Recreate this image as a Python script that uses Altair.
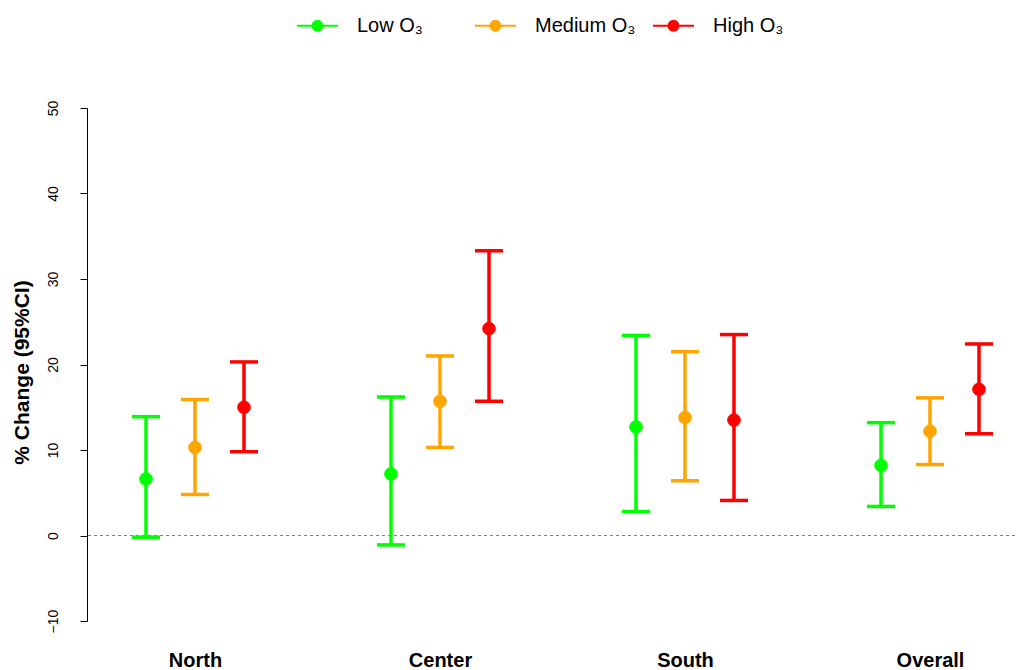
import json
import altair as alt
import pandas as pd

# ---- data ----
regions = ["North", "Center", "South", "Overall"]
levels = ["Low O₃", "Medium O₃", "High O₃"]
colors = ["#00FF00", "#FFA500", "#FF0000"]

low_est = [6.6, 7.2, 12.7, 8.2]
low_lo = [-0.2, -1.1, 2.8, 3.4]
low_hi = [13.9, 16.2, 23.4, 13.2]

med_est = [10.3, 15.7, 13.8, 12.2]
med_lo = [4.8, 10.3, 6.4, 8.3]
med_hi = [15.9, 21.0, 21.5, 16.1]

high_est = [15.0, 24.2, 13.5, 17.1]
high_lo = [9.8, 15.7, 4.1, 11.9]
high_hi = [20.3, 33.3, 23.5, 22.4]

y_ticks = [-10, 0, 10, 20, 30, 40, 50]

series = [(low_est, low_lo, low_hi), (med_est, med_lo, med_hi), (high_est, high_lo, high_hi)]
rows = []
for j, (e, lo, hi) in enumerate(series):
    for i, r in enumerate(regions):
        rows.append({"region": r, "level": levels[j], "pos": i + 1 + (j - 1) * 0.2,
                     "est": e[i], "lo": lo[i], "hi": hi[i]})
df = pd.DataFrame(rows)
zero_df = pd.DataFrame({"y": [0]})

FONT = "Liberation Sans"
W, H = 928, 513
x_dom = [1 - 108 / 245, 1 + (W - 108) / 245]

label_expr = json.dumps(regions) + "[datum.value - 1]"

x_enc = alt.X("pos:Q",
              scale=alt.Scale(domain=x_dom, nice=False, zero=False),
              axis=alt.Axis(values=[1, 2, 3, 4], labelExpr=label_expr, domain=False,
                            ticks=False, tickSize=0, grid=False, title=None,
                            labelFont=FONT, labelFontSize=20, labelFontWeight="bold",
                            labelColor="black", labelBaseline="alphabetic",
                            labelPadding=45, labelAlign="center"))

y_scale = alt.Scale(domain=[-10, 50], nice=False, zero=False)
y_axis = alt.Axis(values=y_ticks, grid=False, domainColor="black", tickColor="black",
                  tickSize=7, labelFont=FONT, labelFontSize=14, labelColor="black",
                  labelAngle=270, labelAlign="center", labelBaseline="alphabetic",
                  labelPadding=23, title="% Change (95%CI)", titleFont=FONT,
                  titleFontSize=21, titleFontWeight="bold", titleColor="black",
                  titleAngle=270, titleX=-59, titleY=264, titleAlign="center",
                  titleBaseline="alphabetic")

legend = alt.Legend(title=None, orient="none", legendX=209, legendY=-104,
                    direction="horizontal", columns=3, gridAlign="all",
                    symbolType="M-1,0L1,0M0.24,0A0.24,0.24,0,1,1,-0.24,0A0.24,0.24,0,1,1,0.24,0Z",
                    symbolSize=1681, symbolStrokeWidth=2, symbolOpacity=1, labelFont=FONT,
                    labelFontSize=20, labelColor="black", labelOffset=18,
                    columnPadding=13, padding=0, labelLimit=300)

c_scale = alt.Scale(domain=levels, range=colors)
color_enc = alt.Color("level:N", scale=c_scale, sort=levels, title=None, legend=legend)
stroke_enc = alt.Stroke("level:N", scale=c_scale, sort=levels, title=None, legend=legend)

base = alt.Chart(df)

zero_line = alt.Chart(zero_df).mark_rule(strokeDash=[3, 3], color="#808080", strokeWidth=1).encode(
    y=alt.Y("y:Q", scale=y_scale, axis=y_axis))

bars = base.mark_rule(strokeWidth=3.5, opacity=1).encode(
    x=x_enc, y=alt.Y("lo:Q", scale=y_scale, axis=y_axis), y2="hi:Q", color=color_enc)

cap_lo = base.mark_tick(orient="horizontal", size=28, thickness=3.5, opacity=1).encode(
    x=x_enc, y=alt.Y("lo:Q", scale=y_scale, axis=y_axis), color=color_enc)
cap_hi = base.mark_tick(orient="horizontal", size=28, thickness=3.5, opacity=1).encode(
    x=x_enc, y=alt.Y("hi:Q", scale=y_scale, axis=y_axis), color=color_enc)

points = base.mark_point(filled=True, size=160, opacity=1, strokeWidth=1).encode(
    x=x_enc, y=alt.Y("est:Q", scale=y_scale, axis=y_axis), color=color_enc, stroke=stroke_enc)

chart = alt.layer(zero_line, bars, cap_lo, cap_hi, points).properties(
    width=W, height=H,
    background="white",
    autosize=alt.AutoSizeParams(type="none"),
    padding={"left": 79, "top": 100, "right": 0, "bottom": 49},
).configure_view(stroke=None)

chart.save("out.html", embed_options={"renderer": "svg", "actions": False})
